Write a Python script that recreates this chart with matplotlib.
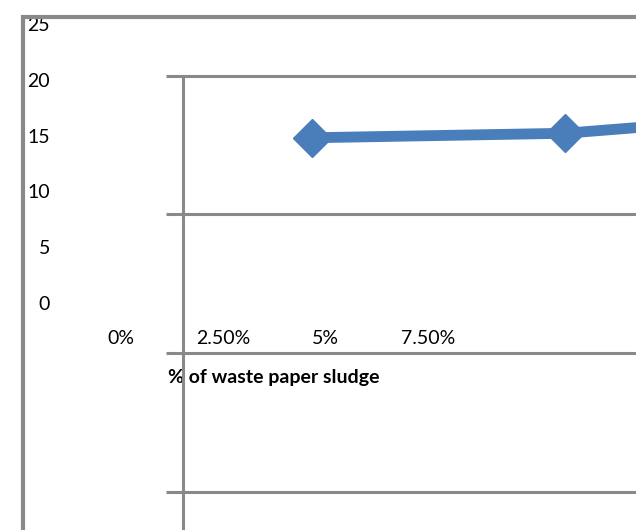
import matplotlib
matplotlib.use("Agg")
import matplotlib.pyplot as plt
from matplotlib.lines import Line2D
from matplotlib.patches import Rectangle

# --- data -------------------------------------------------------------
x_labels = ["0%", "2.50%", "5%", "7.50%"]
y_ticks = [0, 5, 10, 15, 20, 25]
series_values = [14.8, 15.2, 17.0]
x_title = "% of waste paper sludge"

# --- figure geometry (pixels) ------------------------------------------
W, H, DPI = 636, 530, 100
GRAY = "#898989"
BLUE = "#4A7EBB"

plt.rcParams["font.family"] = ["Lato", "DejaVu Sans"]

fig = plt.figure(figsize=(W / DPI, H / DPI), dpi=DPI)
fig.patch.set_facecolor("white")


def fx(px):
    return px / W


def fy(py):
    return 1 - py / H


# value axis: zero sits at y=303 px, twenty at y=79.7 px
zero_px, twenty_px = 303.0, 79.7
px_per_unit = (zero_px - twenty_px) / 20.0
ax_top_px, ax_bot_px = 17.0, 328.0
ax_left_px, ax_right_px = 55.0, 636.0
rect = [fx(ax_left_px), fy(ax_bot_px), fx(ax_right_px - ax_left_px), (ax_bot_px - ax_top_px) / H]

ax = fig.add_axes(rect)
ax.set_ylim((zero_px - ax_bot_px) / px_per_unit, (zero_px - ax_top_px) / px_per_unit)
# category positions: first label at 121 px, 102.3 px apart
cat0_px, cat_step = 121.0, 102.3
ax.set_xlim((ax_left_px - cat0_px) / cat_step, (ax_right_px - cat0_px) / cat_step)
ax.set_xticks(range(len(x_labels)))
ax.set_xticklabels(x_labels)
ax.set_yticks(y_ticks)
ax.tick_params(axis="both", length=0, labelsize=14, labelcolor="black")
ax.tick_params(axis="y", pad=3.6)
ax.tick_params(axis="x", pad=1.5)
for s in ax.spines.values():
    s.set_visible(False)
ax.patch.set_alpha(0)

# series axis shares the value scale; points 253 px apart starting at 312 px
ax_s = fig.add_axes(rect, sharey=ax)
p0_px, p_step = 312.0, 253.0
ax_s.set_xlim((ax_left_px - p0_px) / p_step, (ax_right_px - p0_px) / p_step)
ax_s.plot(range(len(series_values)), series_values, color=BLUE, lw=7.8,
          marker="D", ms=19, mfc=BLUE, mec=BLUE, mew=1, solid_capstyle="round",
          clip_on=True)
ax_s.axis("off")
ax_s.patch.set_alpha(0)

# outer frame (top and left edges)
fig.add_artist(Rectangle((0, fy(15)), 1, 1 - fy(15), transform=fig.transFigure,
                         facecolor="white", edgecolor="none", zorder=4))
fig.add_artist(Line2D([fx(21), 1], [fy(17), fy(17)], transform=fig.transFigure,
                      color=GRAY, lw=3, zorder=5, solid_capstyle="butt"))
fig.add_artist(Line2D([fx(23), fx(23)], [fy(15), 0], transform=fig.transFigure,
                      color=GRAY, lw=3, zorder=5, solid_capstyle="butt"))

# inner frame lines
for ypx in [75.5, 214, 353, 492]:
    fig.add_artist(Line2D([fx(166), 1], [fy(ypx), fy(ypx)], transform=fig.transFigure,
                          color=GRAY, lw=2.2, zorder=5, solid_capstyle="butt"))
fig.add_artist(Line2D([fx(183), fx(183)], [fy(74.5), 0], transform=fig.transFigure,
                      color=GRAY, lw=2.2, zorder=5, solid_capstyle="butt"))

# axis title
fig.text(fx(168), fy(378), x_title, ha="left", va="center", fontsize=14,
         fontweight="bold", color="black", zorder=3)

fig.savefig("out.png", dpi=DPI)
